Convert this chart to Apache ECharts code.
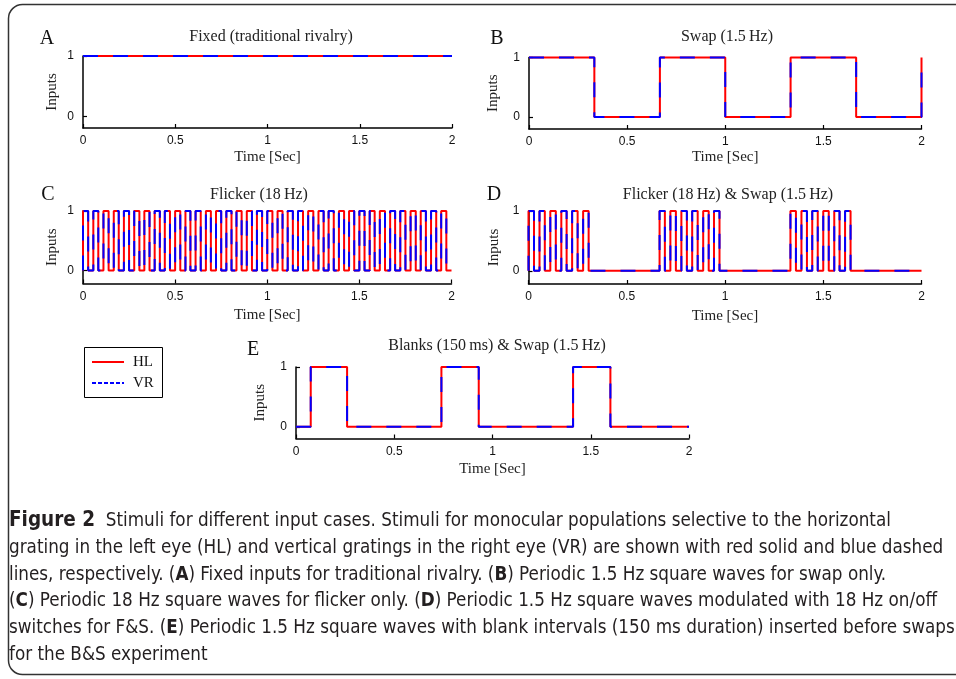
<!DOCTYPE html>
<html>
<head>
<meta charset="utf-8">
<script src="https://cdn.jsdelivr.net/npm/echarts@6/dist/echarts.min.js"></script>
<style>
html,body{margin:0;padding:0;background:#fff;}
#chart{width:956px;height:679px;}
</style>
</head>
<body>
<div id="chart"></div>
<script>
// ---- data (time in seconds, level 0/1); HL and VR are identical in every panel ----
const xTicks = [0, 0.5, 1, 1.5, 2];
const yTicks = [0, 1];

const timeA = [0, 2];
const levelA = [1, 1];

const timeB = [0, 0.333, 0.667, 1, 1.333, 1.667, 2];
const levelB = [1, 0, 1, 0, 1, 0, 1];

const timeC = [0, 0, 0.028, 0.056, 0.083, 0.111, 0.139, 0.167, 0.194, 0.222, 0.25, 0.278, 0.306,
  0.333, 0.361, 0.389, 0.417, 0.444, 0.472, 0.5, 0.528, 0.556, 0.583, 0.611, 0.639,
  0.667, 0.694, 0.722, 0.75, 0.778, 0.806, 0.833, 0.861, 0.889, 0.917, 0.944, 0.972,
  1, 1.028, 1.056, 1.083, 1.111, 1.139, 1.167, 1.194, 1.222, 1.25, 1.278, 1.306,
  1.333, 1.361, 1.389, 1.417, 1.444, 1.472, 1.5, 1.528, 1.556, 1.583, 1.611, 1.639,
  1.667, 1.694, 1.722, 1.75, 1.778, 1.806, 1.833, 1.861, 1.889, 1.917, 1.944, 1.972, 2];
const levelC = [0, 1, 0, 1, 0, 1, 0, 1, 0, 1, 0, 1, 0,
  1, 0, 1, 0, 1, 0, 1, 0, 1, 0, 1, 0,
  1, 0, 1, 0, 1, 0, 1, 0, 1, 0, 1, 0,
  1, 0, 1, 0, 1, 0, 1, 0, 1, 0, 1, 0,
  1, 0, 1, 0, 1, 0, 1, 0, 1, 0, 1, 0,
  1, 0, 1, 0, 1, 0, 1, 0, 1, 0, 1, 0, 0];

const timeD = [0, 0, 0.028, 0.056, 0.083, 0.111, 0.139, 0.167, 0.194, 0.222, 0.25, 0.278, 0.306,
  0.667, 0.694, 0.722, 0.75, 0.778, 0.806, 0.833, 0.861, 0.889, 0.917, 0.944, 0.972,
  1.333, 1.361, 1.389, 1.417, 1.444, 1.472, 1.5, 1.528, 1.556, 1.583, 1.611, 1.639, 2];
const levelD = [0, 1, 0, 1, 0, 1, 0, 1, 0, 1, 0, 1, 0,
  1, 0, 1, 0, 1, 0, 1, 0, 1, 0, 1, 0,
  1, 0, 1, 0, 1, 0, 1, 0, 1, 0, 1, 0, 0];

const timeE = [0, 0.075, 0.26, 0.74, 0.93, 1.41, 1.6, 2];
const levelE = [0, 1, 0, 1, 0, 1, 0, 0];

const panelTitles = ['Fixed (traditional rivalry)', 'Swap (1.5\u2009Hz)', 'Flicker (18\u2009Hz)',
  'Flicker (18\u2009Hz) & Swap (1.5\u2009Hz)', 'Blanks (150\u2009ms) & Swap (1.5\u2009Hz)'];
const panelLetters = ['A', 'B', 'C', 'D', 'E'];
const seriesNames = ['HL', 'VR'];

const captionLines = [
  '{f|Figure 2}  Stimuli for different input cases. Stimuli for monocular populations selective to the horizontal',
  'grating in the left eye (HL) and vertical gratings in the right eye (VR) are shown with red solid and blue dashed',
  'lines, respectively. ({b|A}) Fixed inputs for traditional rivalry. ({b|B}) Periodic 1.5 Hz square waves for swap only.',
  '({b|C}) Periodic 18 Hz square waves for flicker only. ({b|D}) Periodic 1.5 Hz square waves modulated with 18 Hz on/off',
  'switches for F&S. ({b|E}) Periodic 1.5 Hz square waves with blank intervals (150 ms duration) inserted before swaps',
  'for the B&S experiment'
];

// ---- layout ----
const times = [timeA, timeB, timeC, timeD, timeE];
const levels = [levelA, levelB, levelC, levelD, levelE];
const grids = [
  {left: 83, top: 56, width: 369, height: 72},
  {left: 529, top: 57.5, width: 392.5, height: 71.5},
  {left: 83, top: 211, width: 368.5, height: 72.5},
  {left: 528.5, top: 211, width: 393, height: 73},
  {left: 296, top: 367, width: 393, height: 71.5}
];
const yMins = [-0.19, -0.2, -0.22, -0.22, -0.195];
const yNameGaps = [23, 28, 23, 27, 28];
const xNameGaps = [22, 21, 24, 25, 23];
const titlePos = [[271, 37], [727, 37], [259, 195], [728, 195], [497, 346]];
const letterPos = [[47, 39], [497, 39], [48, 195], [494, 195], [253, 350]];

const serif = '"Liberation Serif", "DejaVu Serif", serif';
const sans = '"Liberation Sans", Arial, sans-serif';

const xAxes = [], yAxes = [], series = [], graphics = [];
grids.forEach((g, i) => {
  xAxes.push({
    type: 'value', gridIndex: i, min: 0, max: 2, interval: 0.5,
    name: 'Time [Sec]', nameLocation: 'middle', nameGap: xNameGaps[i],
    nameTextStyle: {fontFamily: serif, fontSize: 15, color: '#222'},
    axisLine: {show: true, onZero: false, lineStyle: {color: '#000', width: 1.5}},
    axisTick: {show: true, inside: true, length: 4, customValues: xTicks, lineStyle: {color: '#000', width: 1.2}},
    axisLabel: {show: true, margin: 7, customValues: xTicks, fontFamily: sans, fontSize: 12, color: '#111'},
    splitLine: {show: false}
  });
  yAxes.push({
    type: 'value', gridIndex: i, min: yMins[i], max: 1,
    name: 'Inputs', nameLocation: 'middle', nameGap: yNameGaps[i], nameRotate: 90,
    nameTextStyle: {fontFamily: serif, fontSize: 15, color: '#222'},
    axisLine: {show: true, onZero: false, lineStyle: {color: '#000', width: 1.5}},
    axisTick: {show: true, inside: true, length: 4, customValues: yTicks, lineStyle: {color: '#000', width: 1.2}},
    axisLabel: {show: true, margin: 9, customValues: yTicks, fontFamily: sans, fontSize: 12, color: '#111'},
    splitLine: {show: false}
  });
  const data = times[i].map((t, k) => [t, levels[i][k]]);
  series.push({
    name: seriesNames[0], type: 'line', xAxisIndex: i, yAxisIndex: i, step: 'end',
    data: data, showSymbol: false, clip: false, animation: false,
    lineStyle: {color: '#ff0000', width: 2, type: 'solid'}
  });
  series.push({
    name: seriesNames[1], type: 'line', xAxisIndex: i, yAxisIndex: i, step: 'end',
    data: data, showSymbol: false, clip: false, animation: false,
    lineStyle: {color: '#0000ff', width: 2, type: [15, 15]}
  });
  graphics.push({
    type: 'text', x: titlePos[i][0], y: titlePos[i][1],
    style: {text: panelTitles[i], fontFamily: serif, fontSize: 16, fill: '#222', align: 'center', verticalAlign: 'middle'}
  });
  graphics.push({
    type: 'text', x: letterPos[i][0], y: letterPos[i][1],
    style: {text: panelLetters[i], fontFamily: serif, fontSize: 20, fill: '#111', align: 'center', verticalAlign: 'middle'}
  });
});

// legend box
graphics.push({type: 'rect', shape: {x: 84.5, y: 347.5, width: 78, height: 50},
  style: {fill: '#fff', stroke: '#000', lineWidth: 1}});
graphics.push({type: 'line', shape: {x1: 92, y1: 362, x2: 124, y2: 362},
  style: {stroke: '#ff0000', lineWidth: 2}});
graphics.push({type: 'line', shape: {x1: 92, y1: 383, x2: 124, y2: 383},
  style: {stroke: '#0000ff', lineWidth: 2, lineDash: [4, 2]}});
graphics.push({type: 'text', x: 133, y: 362, style: {text: seriesNames[0], fontFamily: serif, fontSize: 15, fill: '#111', verticalAlign: 'middle'}});
graphics.push({type: 'text', x: 133, y: 383, style: {text: seriesNames[1], fontFamily: serif, fontSize: 15, fill: '#111', verticalAlign: 'middle'}});

// frame
graphics.push({type: 'rect', shape: {x: 8.5, y: 4.5, width: 990, height: 670, r: 14},
  style: {fill: 'none', stroke: '#333', lineWidth: 1.5}, z: -1});

// caption
const capFont = '"Liberation Sans Narrow", "DejaVu Sans Condensed", "Roboto", sans-serif';
const capY = [521, 548, 575, 601, 628, 655];
captionLines.forEach((line, k) => {
  graphics.push({
    type: 'text', x: 9, y: capY[k],
    style: {
      text: line, fontFamily: capFont, fontSize: 18.7, fill: '#231f20', verticalAlign: 'middle',
      rich: {
        b: {fontFamily: capFont, fontSize: 18.7, fontWeight: 'bold', fill: '#231f20'},
        f: {fontFamily: capFont, fontSize: 20.5, fontWeight: 'bold', fill: '#231f20'}
      }
    }
  });
});

const chart = echarts.init(document.getElementById('chart'), null, {renderer: 'canvas'});
chart.setOption({
  animation: false,
  backgroundColor: '#fff',
  grid: grids,
  xAxis: xAxes,
  yAxis: yAxes,
  series: series,
  graphic: graphics
});
</script>
</body>
</html>
